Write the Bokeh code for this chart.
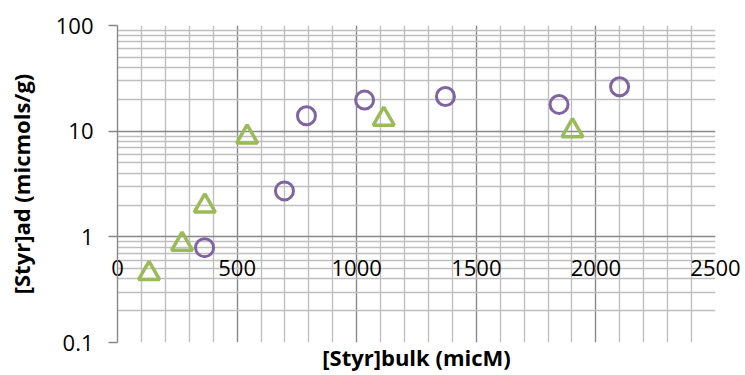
from bokeh.plotting import figure
from bokeh.models import FixedTicker, Range1d
from bokeh.embed import file_html
from bokeh.resources import INLINE

# Data
circle_x = [364, 698, 790, 1033, 1371, 1846, 2099]
circle_y = [0.79, 2.72, 14.0, 19.7, 21.3, 17.9, 26.3]

triangle_x = [132, 270, 365, 542, 1113, 1902]
triangle_y = [0.45, 0.85, 1.96, 8.8, 13.0, 10.1]

x_ticks = [0, 500, 1000, 1500, 2000, 2500]
x_tick_labels = ["0", "500", "1000", "1500", "2000", "2500"]
x_minor = [v for v in range(0, 2501, 100) if v % 500 != 0]

y_ticks = [0.1, 1, 10, 100]
y_tick_labels = ["0.1", "1", "10", "100"]
y_minor = [m * d for d in (0.1, 1, 10) for m in range(2, 10)]

PURPLE = "#8064A2"
GREEN = "#9BBB59"
MAJOR = "#888888"
MINOR = "#BFBFBF"
FONT = "Open Sans"

p = figure(width=745, height=375, output_backend="svg", toolbar_location=None,
           y_axis_type="log", x_range=Range1d(0, 2500), y_range=Range1d(0.1, 100),
           min_border_left=117, min_border_right=30, min_border_top=25,
           min_border_bottom=33)
p.outline_line_color = None
p.background_fill_color = "white"
p.border_fill_color = "white"

# grids
p.xgrid.ticker = FixedTicker(ticks=x_ticks, minor_ticks=x_minor)
p.ygrid.ticker = FixedTicker(ticks=y_ticks, minor_ticks=y_minor)
for g in (p.xgrid, p.ygrid):
    g.grid_line_color = MAJOR
    g.grid_line_width = 1.4
    g.minor_grid_line_color = MINOR
    g.minor_grid_line_width = 1.4

# y axis
ya = p.yaxis[0]
ya.ticker = FixedTicker(ticks=y_ticks, minor_ticks=[])
ya.major_label_overrides = {t: l for t, l in zip(y_ticks, y_tick_labels)}
ya.axis_line_color = MAJOR
ya.axis_line_width = 1.4
ya.major_tick_line_color = MAJOR
ya.major_tick_line_width = 1.4
ya.major_tick_out = 9
ya.major_tick_in = 0
ya.minor_tick_out = 0
ya.minor_tick_in = 0
ya.major_label_standoff = 15
ya.major_label_text_font = FONT
ya.major_label_text_font_size = "22px"
ya.major_label_text_color = "black"
ya.axis_label = "[Styr]ad (micmols/g)"
ya.axis_label_text_font = FONT
ya.axis_label_text_font_style = "bold"
ya.axis_label_text_font_size = "22px"
ya.axis_label_text_color = "black"
ya.axis_label_standoff = 17

# x axis: tick labels lifted up to sit just below the y = 1 line (axis crossing)
xa = p.xaxis[0]
xa.ticker = FixedTicker(ticks=x_ticks, minor_ticks=[])
xa.major_label_overrides = {t: l for t, l in zip(x_ticks, x_tick_labels)}
xa.axis_line_color = None
xa.major_tick_line_color = None
xa.minor_tick_line_color = None
xa.major_tick_out = 0
xa.major_tick_in = 0
xa.major_label_standoff = -83
xa.major_label_text_font = FONT
xa.major_label_text_font_size = "22px"
xa.major_label_text_color = "black"
xa.axis_label = "[Styr]bulk (micM)"
xa.axis_label_text_font = FONT
xa.axis_label_text_font_style = "bold"
xa.axis_label_text_font_size = "22px"
xa.axis_label_text_color = "black"
xa.axis_label_standoff = 63

p.scatter(circle_x, circle_y, marker="circle", size=18, fill_color=None,
          line_color=PURPLE, line_width=3)
p.scatter(triangle_x, triangle_y, marker="triangle", size=21, fill_color=None,
          line_color=GREEN, line_width=3.5)

open("out.html", "w").write(file_html(p, INLINE))
